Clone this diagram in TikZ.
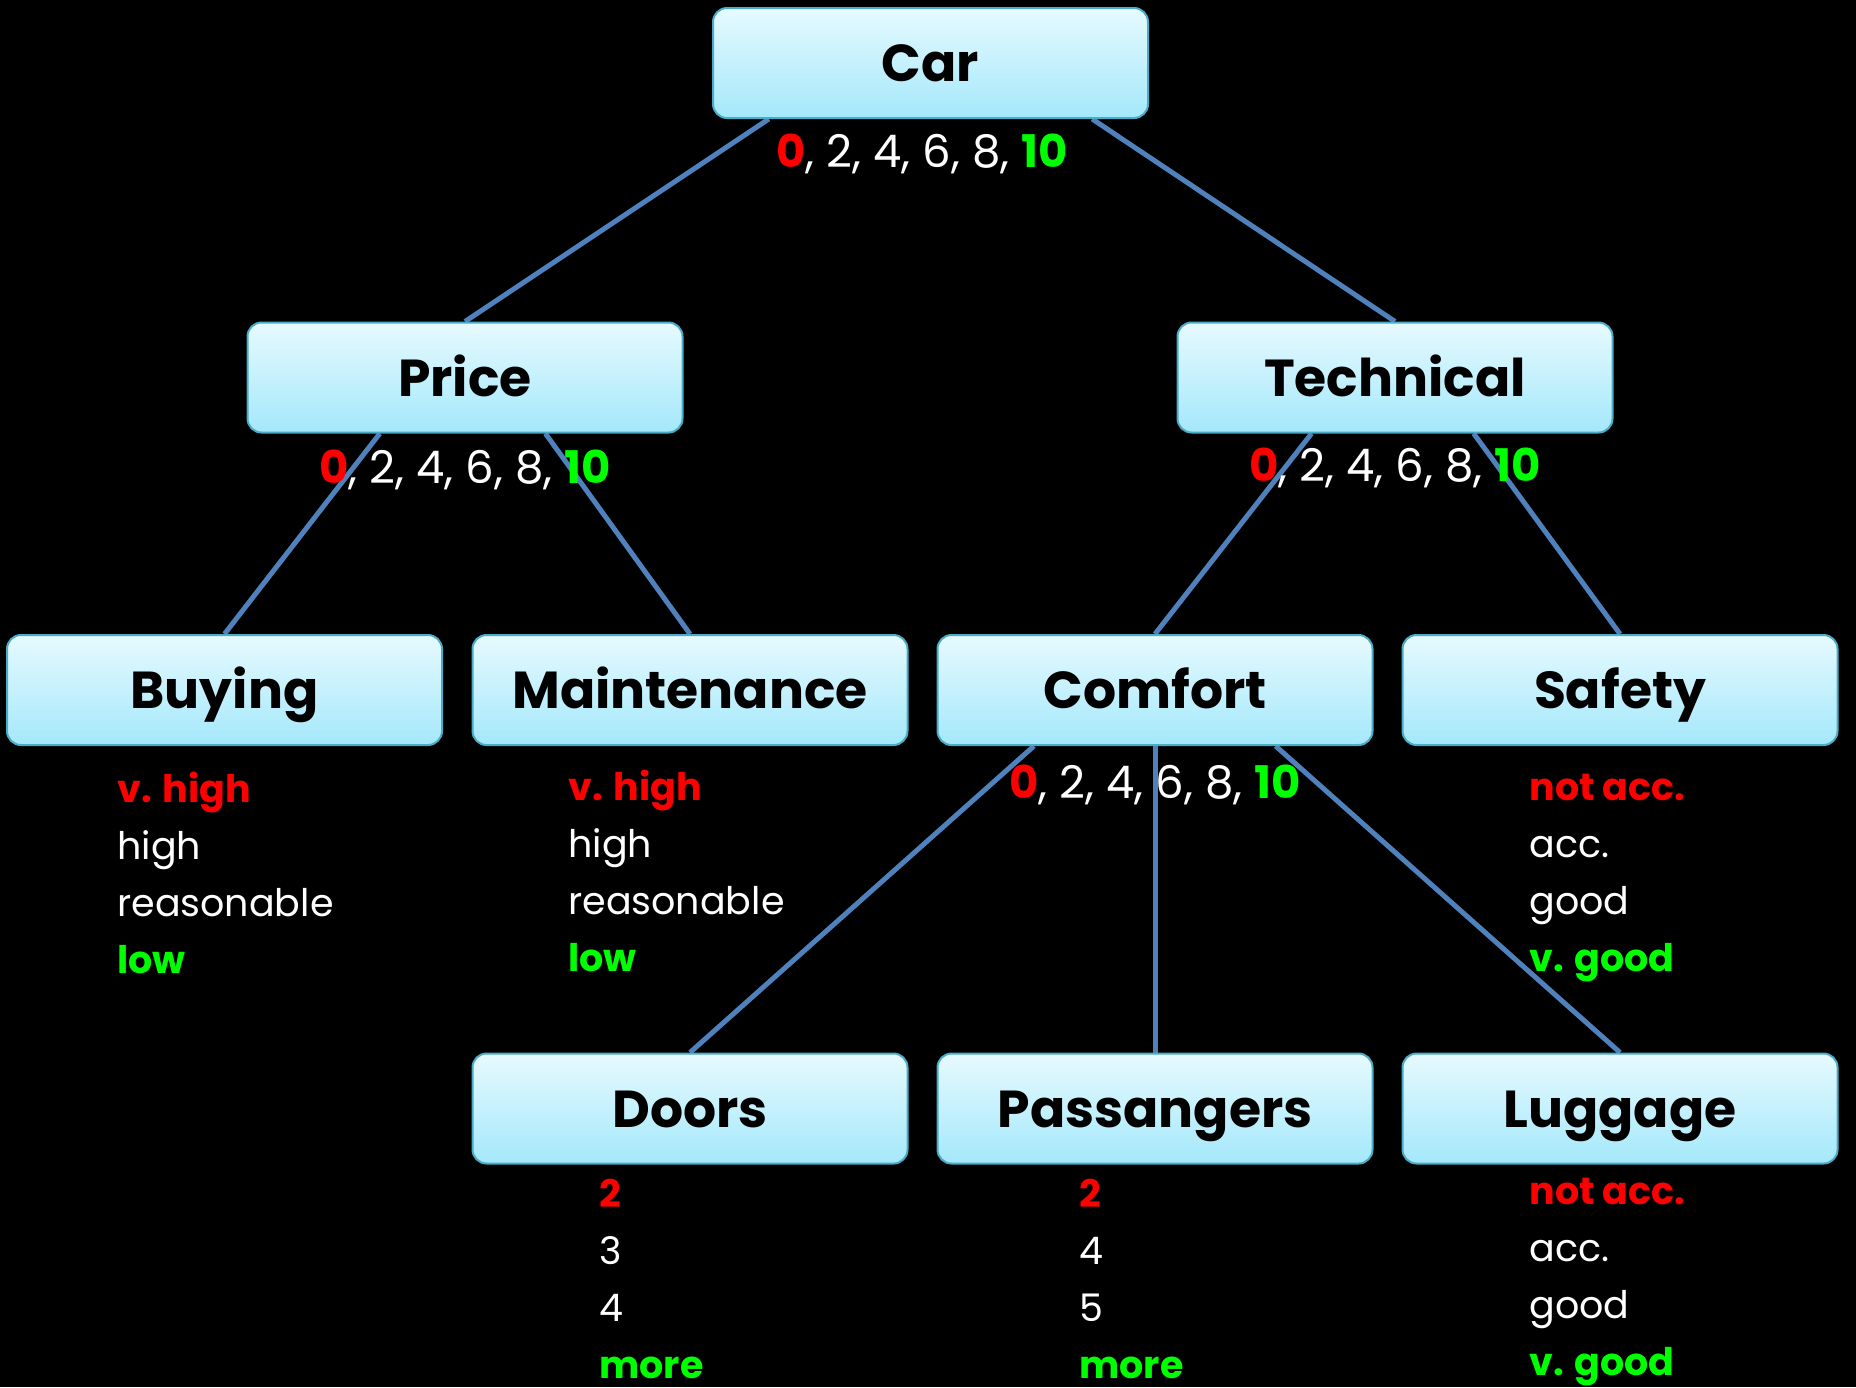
\documentclass[tikz,border=0pt]{standalone}
\usepackage{fontspec}
\setmainfont{Poppins}
\usetikzlibrary{calc,backgrounds}
\definecolor{boxedge}{RGB}{75,172,198}
\definecolor{boxtop}{RGB}{230,250,254}
\definecolor{boxbot}{RGB}{164,232,251}
\definecolor{conn}{RGB}{79,129,189}
\definecolor{lo}{RGB}{255,0,0}
\definecolor{hi}{RGB}{0,255,0}
\newcommand\labfont{\fontsize{26}{30}\selectfont\bfseries}
\newcommand\valfont{\fontsize{22.5}{26}\selectfont}
\newcommand\itemfont{\fontsize{19}{23}\selectfont}
\newcommand\mylist[7]{%
  \node[item,text=lo,font=\itemfont\bfseries] (#1-1) at (#2,#3) {#4};
  \node[item] (#1-2) at (#2,#3+57.3) {#5};
  \node[item] (#1-3) at (#2,#3+114.6) {#6};
  \node[item,text=hi,font=\itemfont\bfseries] (#1-4) at (#2,#3+171.9) {#7};
}
\newcommand\scale{\textcolor{lo}{\bfseries 0}, 2, 4, 6, 8, \textcolor{hi}{\bfseries 10}}
\begin{document}
\begin{tikzpicture}[x=0.5pt,y=-0.5pt,
  box/.style={draw=boxedge, line width=1pt, rounded corners=7pt,
    top color=boxtop, bottom color=boxbot,
    minimum width=217.5pt, minimum height=55pt, inner sep=0pt,
    font=\labfont, text=black, text height=18.5pt, text depth=0pt},
  val/.style={anchor=base, font=\valfont, text=white, inner sep=0pt},
  item/.style={anchor=base west, font=\itemfont, text=white, inner sep=0pt},
  link/.style={draw=conn, line width=2.5pt}]
\useasboundingbox (0,0) rectangle (1856,1387);

\node[box] (car) at (930.5,63) {Car};
\node[box] (price) at (465,377.5) {Price};
\node[box] (tech) at (1395,377.5) {Technical};
\node[box] (buy) at (224.5,690) {Buying};
\node[box] (maint) at (690,690) {Maintenance};
\node[box] (comf) at (1155,690) {Comfort};
\node[box] (safe) at (1620,690) {Safety};
\node[box] (doors) at (690,1108.5) {Doors};
\node[box] (pass) at (1155,1108.5) {Passangers};
\node[box] (lug) at (1620,1108.5) {Luggage};

\node[val] (carv) at (922,167) {\scale};
\node[val] (pricev) at (465,483) {\scale};
\node[val] (techv) at (1395,481) {\scale};
\node[val] (comfv) at (1155,798) {\scale};

\mylist{bl}{117}{802}{v. high}{high}{reasonable}{low}
\mylist{ml}{568}{800}{v. high}{high}{reasonable}{low}
\mylist{sl}{1529}{800}{not acc.}{acc.}{good}{v. good}
\mylist{dl}{599}{1207}{2}{3}{4}{more}
\mylist{pl}{1079}{1207}{2}{4}{5}{more}
\mylist{ll}{1529}{1204}{not acc.}{acc.}{good}{v. good}

\begin{scope}[on background layer]
\fill[black] (0,0) rectangle (1856,1387);
\draw[link] ($(car.south west)!0.13!(car.south east)$) -- (price.north);
\draw[link] ($(car.south west)!0.87!(car.south east)$) -- (tech.north);
\draw[link] ($(price.south west)!0.305!(price.south east)$) -- (buy.north);
\draw[link] ($(price.south west)!0.684!(price.south east)$) -- (maint.north);
\draw[link] ($(tech.south west)!0.309!(tech.south east)$) -- (comf.north);
\draw[link] ($(tech.south west)!0.68!(tech.south east)$) -- (safe.north);
\draw[link] ($(comf.south west)!0.223!(comf.south east)$) -- (doors.north);
\draw[link] (comf.south) -- (pass.north);
\draw[link] ($(comf.south west)!0.776!(comf.south east)$) -- (lug.north);
\end{scope}
\end{tikzpicture}
\end{document}
